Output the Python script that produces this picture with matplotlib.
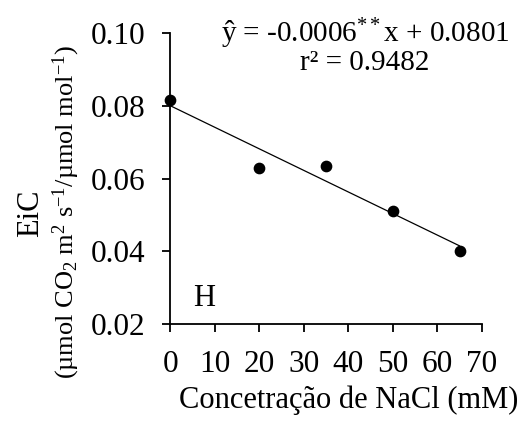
import matplotlib.pyplot as plt
import numpy as np

plt.rcParams['font.family'] = ['Liberation Serif', 'DejaVu Serif']
plt.rcParams['mathtext.fontset'] = 'custom'
plt.rcParams['mathtext.rm'] = 'Liberation Serif'
plt.rcParams['mathtext.it'] = 'Liberation Serif:italic'

# NaCl concentration (mM) vs EiC
nacl = [0, 20, 35, 50, 65]
eic = [0.0815, 0.0630, 0.0635, 0.0512, 0.0402]

xticks = [0, 10, 20, 30, 40, 50, 60, 70]
yticks = [0.02, 0.04, 0.06, 0.08, 0.10]

fig = plt.figure(figsize=(5.3, 4.26), dpi=100)
ax = fig.add_axes([0.321, 0.2394, 0.588, 0.683])

slope, intercept = np.polyfit(nacl, eic, 1)
xl = np.array([nacl[0], nacl[-1]])
ax.plot(xl, slope * xl + intercept, color="black", lw=0.9)
ax.scatter(nacl, eic, color="black", s=55, zorder=3, clip_on=False)

ax.set_xlim(0, 70)
ax.set_ylim(0.02, 0.10)
ax.set_xticks(xticks)
ax.set_yticks(yticks)
ax.set_yticklabels([f"{v:.2f}" for v in yticks])
ax.spines["top"].set_visible(False)
ax.spines["right"].set_visible(False)
ax.tick_params(direction="out", length=6, width=1.3, labelsize=22.5)
ax.tick_params(axis="x", pad=12.5)
ax.tick_params(axis="y", pad=12)
ax.spines["left"].set_linewidth(1.3)
ax.spines["bottom"].set_linewidth(1.3)

ax.set_xlabel("Concetração de NaCl (mM)", fontsize=22)
ax.xaxis.set_label_coords(0.574, -0.21)

fig.text(0.057, 0.50, "EiC", rotation=90, fontsize=22, ha="center", va="center")
fig.text(0.125, 0.502, "(µmol CO$_2$ m$^2$ s$^{-1}$/µmol mol$^{-1}$)",
         rotation=90, fontsize=19, ha="center", va="center")

ax.text(0.625, 0.997, "ŷ = -0.0006$^{**}$x + 0.0801", transform=ax.transAxes,
        fontsize=21, ha="center", va="center")
ax.text(0.625, 0.897, "r² = 0.9482", transform=ax.transAxes,
        fontsize=21, ha="center", va="center")
ax.text(0.074, 0.089, "H", transform=ax.transAxes, fontsize=22, ha="left", va="center")

fig.savefig("out.png", dpi=100)
